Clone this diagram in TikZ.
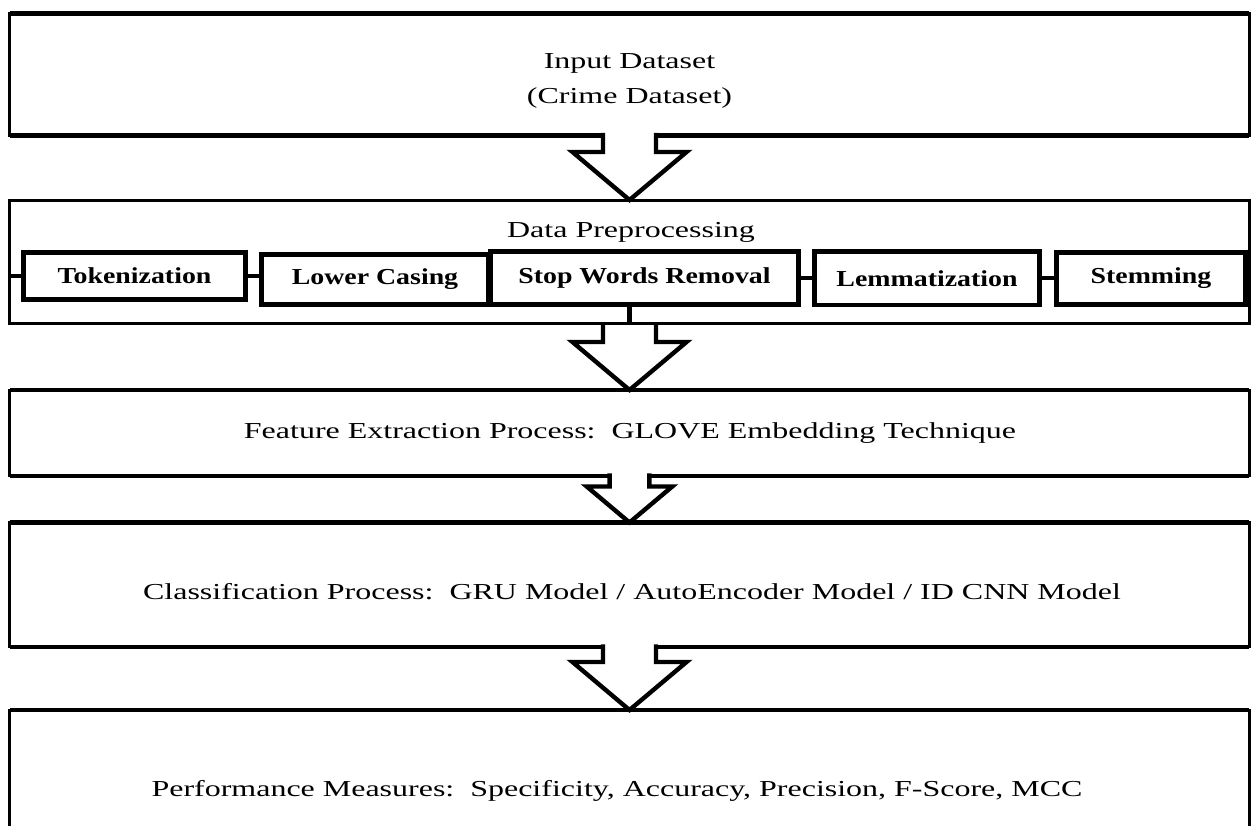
\documentclass[tikz,border=0pt]{standalone}
\usepackage{fontspec}
\setmainfont{Liberation Serif}
\newfontfamily\stagefont[FakeStretch=1.4]{Liberation Serif}
\newfontfamily\stepfont[FakeStretch=1.22]{Liberation Serif}
\usetikzlibrary{calc}

\tikzset{
  stage/.style={draw, line width=1.7pt, outer sep=0pt, inner sep=0pt, minimum width=24.8cm},
  stagelabel/.style={font=\stagefont\fontsize{13}{20}\selectfont, align=center, inner sep=0pt},
  stepbox/.style={draw, line width=2.7pt, outer sep=0pt, inner sep=0pt,
    font=\stepfont\bfseries\fontsize{13}{15}\selectfont},
}

\begin{document}
\begin{tikzpicture}[x=0.02cm, y=-0.02cm]
    \useasboundingbox (0,0) rectangle (1251,825);
    \clip (0,0) rectangle (1251,825);

    \node[stage, minimum height=2.44cm] (Input) at (629.5, 74.5) {};
    \node[stage, minimum height=2.47cm] (Prep) at (629.5, 261.75) {};
    \node[stage, minimum height=1.72cm] (Feature) at (629.5, 433) {};
    \node[stage, minimum height=2.49cm] (Class) at (629.5, 584.75) {};
    \node[stage, minimum height=3.4cm] (Perf) at (629.5, 795) {};

    \node[stagelabel] (InputTxt) at (629.5, 81) {Input Dataset\\(Crime Dataset)};
    \node[stagelabel] (PrepTxt) at (631, 232) {Data Preprocessing};
    \node[stagelabel] (FeatureTxt) at (630, 433) {Feature Extraction Process:\ \ GLOVE Embedding Technique};
    \node[stagelabel] (ClassTxt) at (632, 592) {Classification Process:\ \ GRU Model / AutoEncoder Model / ID CNN Model};
    \node[stagelabel] (PerfTxt) at (617, 791) {Performance Measures:\ \ Specificity, Accuracy, Precision, F-Score, MCC};

    \node[stepbox, minimum width=4.44cm, minimum height=0.94cm] (Tok) at (134.5, 276) {Tokenization};
    \node[stepbox, minimum width=4.55cm, minimum height=1.0cm] (Lower) at (375, 279.5) {Lower Casing};
    \node[stepbox, minimum width=6.16cm, minimum height=1.06cm] (Stop) at (644.5, 278) {Stop Words Removal};
    \node[stepbox, minimum width=4.5cm, minimum height=1.07cm] (Lemma) at (927, 278.25) {Lemmatization};
    \node[stepbox, minimum width=3.78cm, minimum height=1.04cm] (Stem) at (1151, 278.5) {Stemming};

    % thick top and bottom edges
    \foreach \n in {Input,Feature,Class,Perf}
        \draw[line width=2.8pt] (\n.north west) -- (\n.north east) (\n.south west) -- (\n.south east);

    % block arrows between the stages
    \foreach \a/\b/\s/\o in {Input/Prep/1/2.5, Prep/Feature/1/0, Feature/Class/0.75/2.5, Class/Perf/1/2.5}
        \draw[line width=2.5pt, fill=white, line join=miter]
            ($(\a.south)+(-26.5*\s,-\o)$) -- ($(\b.north)+(-26.5*\s,-48*\s)$)
            -- ($(\b.north)+(-57*\s,-48*\s)$) -- (\b.north)
            -- ($(\b.north)+(57*\s,-48*\s)$) -- ($(\b.north)+(26.5*\s,-48*\s)$)
            -- ($(\a.south)+(26.5*\s,-\o)$);
    \draw[line width=1.7pt] (Prep.south west) -- (Prep.south east);

    \begin{scope}[every path/.style={line width=2.3pt}]
       \draw (Tok.west -| Prep.west) -- (Tok.west);
       \draw (Tok.east) -- (Tok.east -| Lower.west);
       \draw (Stop.east) -- (Stop.east -| Lemma.west);
       \draw (Lemma.east) -- (Lemma.east -| Stem.west);
       \draw (Stem.east) -- (Stem.east -| Prep.east);
       \draw (Stop.south -| Prep.south) -- (Prep.south);
    \end{scope}
\end{tikzpicture}
\end{document}
